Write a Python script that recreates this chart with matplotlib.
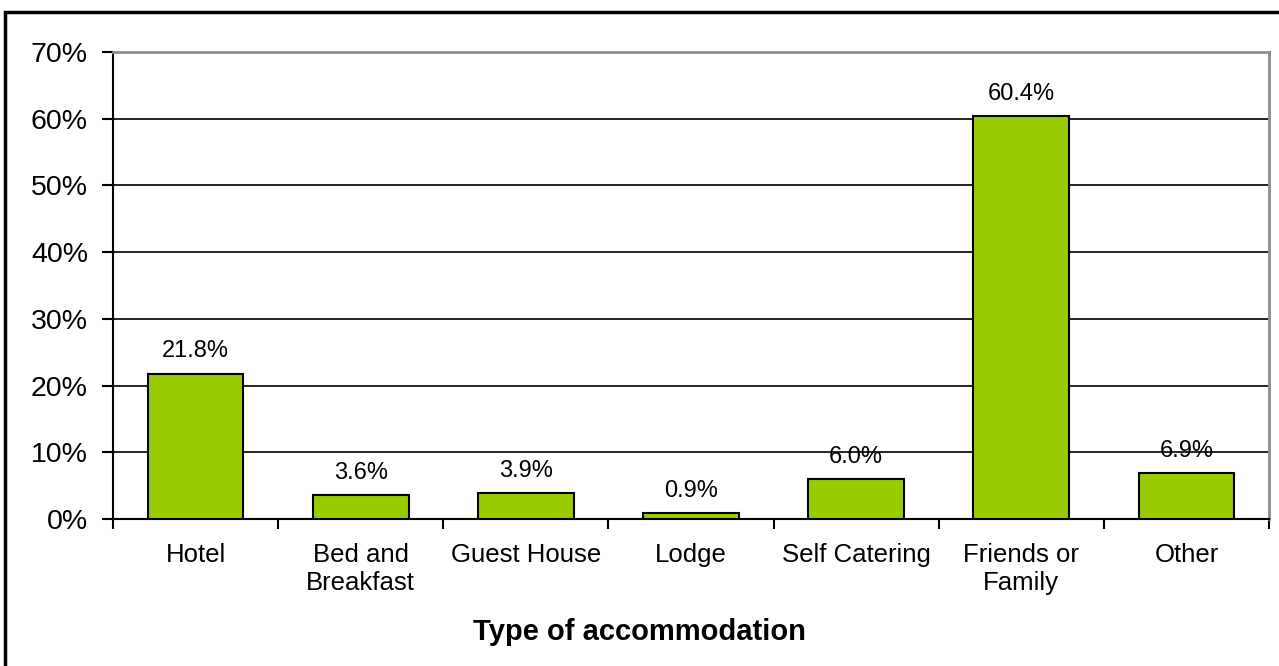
import matplotlib
matplotlib.use("Agg")
import matplotlib.pyplot as plt
from matplotlib.patches import Rectangle
from matplotlib.ticker import FuncFormatter, MultipleLocator

categories = ["Hotel", "Bed and\nBreakfast", "Guest House", "Lodge",
              "Self Catering", "Friends or\nFamily", "Other"]
values = [21.8, 3.6, 3.9, 0.9, 6.0, 60.4, 6.9]
labels = ["21.8%", "3.6%", "3.9%", "0.9%", "6.0%", "60.4%", "6.9%"]
x_title = "Type of accommodation"

plt.rcParams['font.family'] = ['Liberation Sans', 'DejaVu Sans']

W, H = 1279, 666
fig = plt.figure(figsize=(W / 100, H / 100), dpi=100)
ax = fig.add_axes([113 / W, 1 - 519 / H, (1269 - 113) / W, (519 - 52) / H])

n = len(categories)
x = list(range(n))
ax.bar(x, values, width=0.58, color="#99CC00", edgecolor="black", linewidth=1.5, zorder=3)

for xi, v, lab in zip(x, values, labels):
    ax.annotate(lab, (xi, v), xytext=(0, 8), textcoords="offset points",
                ha="center", va="bottom", fontsize=17, zorder=4)

ax.set_xlim(-0.5, n - 0.5)
ax.set_ylim(0, 70)
ax.yaxis.set_major_locator(MultipleLocator(10))
ax.yaxis.set_major_formatter(FuncFormatter(lambda v, p: f"{v:.0f}%"))
ax.grid(axis="y", color="black", linewidth=1.2, zorder=1)
ax.set_axisbelow(True)

ax.set_xticks(x)
ax.set_xticklabels(categories, fontsize=18.5, linespacing=1.25)
ax.set_xticks([i - 0.5 for i in range(n + 1)], minor=True)
ax.tick_params(axis="x", which="major", length=0, pad=17)
ax.tick_params(axis="x", which="minor", length=7, width=1.5, direction="out")
ax.tick_params(axis="y", length=8, width=1.5, labelsize=20.5, pad=10)

for s in ["left", "bottom"]:
    ax.spines[s].set_color("black")
    ax.spines[s].set_linewidth(1.5)
for s in ["top", "right"]:
    ax.spines[s].set_color("#8c8c8c")
    ax.spines[s].set_linewidth(2)

fig.text(0.5, 1 - 640 / H, x_title, ha="center", va="baseline",
         fontsize=21, fontweight="bold")

fig.patches.append(Rectangle((5 / W, -0.05), 1.1, 1 - 12 / H + 0.05,
                             transform=fig.transFigure, fill=False,
                             edgecolor="black", linewidth=2.5))

fig.savefig("out.png", dpi=100)
